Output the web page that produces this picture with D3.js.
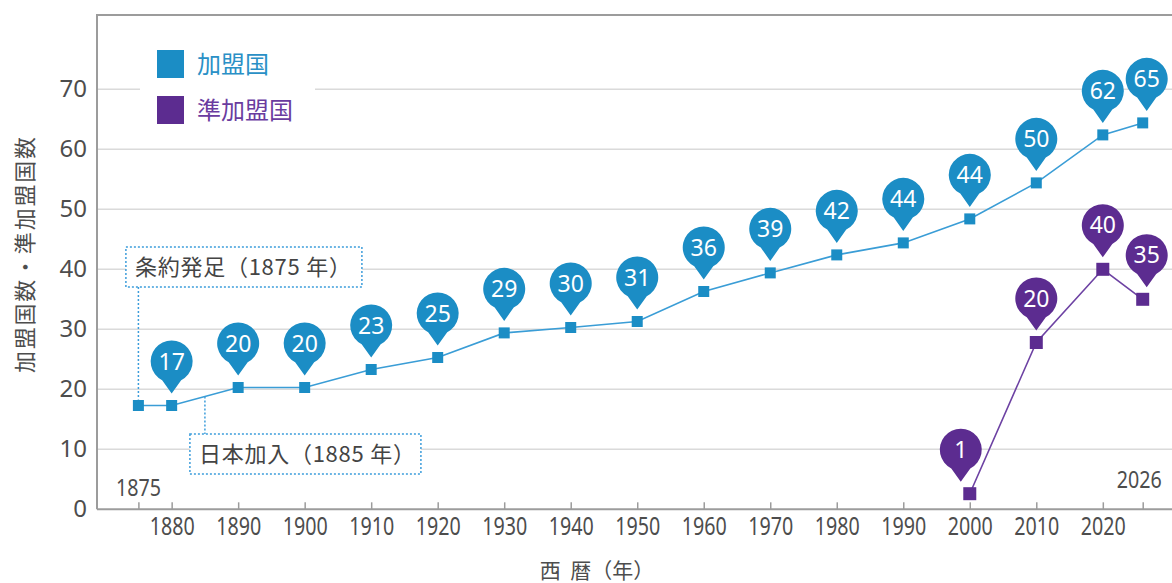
<!DOCTYPE html>
<html>
<head>
<meta charset="utf-8">
<script src="https://cdn.jsdelivr.net/npm/d3@7"></script>
<style>
  body { margin: 0; background: #fff; }
  text { font-family: "Noto Sans", "Noto Sans CJK JP", sans-serif; }
  .jp { font-family: "Noto Sans CJK JP", sans-serif; white-space: pre; }
</style>
</head>
<body>
<div id="chart"></div>
<script>
const memberYears  = [1875, 1880, 1890, 1900, 1910, 1920, 1930, 1940, 1950, 1960, 1970, 1980, 1990, 2000, 2010, 2020, 2026];
const memberValues = [17.3, 17.3, 20.3, 20.3, 23.3, 25.3, 29.4, 30.3, 31.3, 36.3, 39.4, 42.4, 44.4, 48.4, 54.4, 62.4, 64.4];
const memberLabels = [null, 17, 20, 20, 23, 25, 29, 30, 31, 36, 39, 42, 44, 44, 50, 62, 65];

// associate members
const assocYears  = [2000, 2010, 2020, 2026];
const assocValues = [2.6, 27.8, 40, 35];
const assocLabels = [1, 20, 40, 35];

const tickYears = [1880, 1890, 1900, 1910, 1920, 1930, 1940, 1950, 1960, 1970, 1980, 1990, 2000, 2010, 2020];
const yTicks = [0, 10, 20, 30, 40, 50, 60, 70];
const legendNames = ["加盟国", "準加盟国"];
const notes = [
    { year: 1875, text: "条約発足（1875 年）" },
    { year: 1885, text: "日本加入（1885 年）" }
];

const width = 1172, height = 583;
const blue = "#1b8dc5", blueLine = "#3a9dd6",
    purple = "#5c2c90", purpleLine = "#6d42a3",
    frameColor = "#9c9c9c", gridColor = "#dadada", textColor = "#4d4d4d";

const svg = d3.select("#chart")
    .append("svg")
    .attr("width", width)
    .attr("height", height);

const x = d3.scaleLinear().domain([1875, 2020]).range([138.4, 1102.8]);
const y = d3.scaleLinear().domain([0, 70]).range([509.3, 89.3]);
const plotLeft = 97, plotTop = 15;

// grid
svg.append("g")
    .selectAll("line")
    .data(yTicks.filter(d => d > 0))
    .enter()
    .append("line")
    .attr("x1", plotLeft).attr("x2", width)
    .attr("y1", d => y(d)).attr("y2", d => y(d))
    .attr("stroke", gridColor)
    .attr("stroke-width", 1.5);

// legend (white box hides the grid line behind it)
const legend = svg.append("g");
legend.append("rect")
    .attr("x", 140).attr("y", 40)
    .attr("width", 175).attr("height", 95)
    .attr("fill", "#fff");
legend.selectAll("g.item")
    .data(legendNames)
    .enter()
    .append("g")
    .attr("class", "item")
    .attr("transform", (d, i) => "translate(157," + (50 + i * 46) + ")")
    .each(function (d, i) {
        const g = d3.select(this);
        g.append("rect")
            .attr("width", 27).attr("height", 28)
            .attr("fill", i ? purple : blue);
        g.append("text")
            .attr("class", "jp")
            .attr("x", 40).attr("y", 14)
            .attr("dy", "0.36em")
            .attr("font-size", 24)
            .attr("fill", i ? "#6a3c9f" : "#2a90c6")
            .text(d);
    });

// frame
svg.append("path")
    .attr("d", "M" + width + "," + plotTop + "H" + plotLeft + "V" + y(0))
    .attr("fill", "none")
    .attr("stroke", frameColor)
    .attr("stroke-width", 2);

// x axis
const xAxis = svg.append("g")
    .attr("transform", "translate(0," + y(0) + ")")
    .call(d3.axisBottom(x)
        .tickValues([1875].concat(tickYears, [2026]))
        .tickSize(-7)
        .tickFormat(d => tickYears.includes(d) ? d : ""));
xAxis.select(".domain")
    .attr("d", "M" + plotLeft + ",0H" + width)
    .attr("stroke", frameColor)
    .attr("stroke-width", 2);
xAxis.selectAll(".tick line").attr("stroke", frameColor).attr("stroke-width", 1.5);
xAxis.selectAll(".tick text")
    .attr("y", 26).attr("dy", null)
    .attr("font-size", 24.5)
    .attr("fill", textColor)
    .attr("textLength", d => tickYears.includes(d) ? 45 : null)
    .attr("lengthAdjust", "spacingAndGlyphs");

// end year labels inside the plot
svg.append("g")
    .selectAll("text")
    .data([[1875, 496, "middle", 0], [2026, 488, "end", 19]])
    .enter()
    .append("text")
    .attr("x", d => x(d[0]) + d[3])
    .attr("y", d => d[1])
    .attr("text-anchor", d => d[2])
    .attr("font-size", 24)
    .attr("fill", textColor)
    .attr("textLength", 45)
    .attr("lengthAdjust", "spacingAndGlyphs")
    .text(d => d[0]);

// y axis
const yAxis = svg.append("g")
    .attr("transform", "translate(" + plotLeft + ",0)")
    .call(d3.axisLeft(y).tickValues(yTicks).tickSize(0).tickPadding(10));
yAxis.select(".domain").remove();
yAxis.selectAll(".tick text")
    .attr("font-size", 24)
    .attr("fill", textColor);

// axis titles
svg.append("text")
    .attr("class", "jp")
    .attr("transform", "translate(25,255) rotate(-90)")
    .attr("text-anchor", "middle")
    .attr("dy", "0.36em")
    .attr("font-size", 22)
    .attr("fill", textColor)
    .attr("textLength", 236)
    .attr("lengthAdjust", "spacing")
    .text("加盟国数・準加盟国数");

svg.append("text")
    .attr("class", "jp")
    .attr("x", 597).attr("y", 578)
    .attr("text-anchor", "middle")
    .attr("font-size", 21)
    .attr("fill", textColor)
    .text("西  暦（年）");

// lines
const line = d3.line().x(d => x(d[0])).y(d => y(d[1]));
const memberData = memberYears.map((d, i) => [d, memberValues[i], memberLabels[i]]);
const assocData = assocYears.map((d, i) => [d, assocValues[i], assocLabels[i]]);

svg.append("path")
    .datum(memberData)
    .attr("d", line)
    .attr("fill", "none")
    .attr("stroke", blueLine)
    .attr("stroke-width", 1.6);
svg.append("path")
    .datum(assocData)
    .attr("d", line)
    .attr("fill", "none")
    .attr("stroke", purpleLine)
    .attr("stroke-width", 1.6);

// annotation boxes and dotted leaders
function valueAt(year) {
    const i = Math.max(1, d3.bisectLeft(memberYears, year));
    const t = (year - memberYears[i - 1]) / (memberYears[i] - memberYears[i - 1]);
    return memberValues[i - 1] + t * (memberValues[i] - memberValues[i - 1]);
}
const boxes = [
    { left: -12.5, top: 247, w: 236, h: 40, leaderFrom: 287, leaderTo: y(valueAt(1875)) - 6 },
    { left: -15, top: 434, w: 231, h: 40, leaderFrom: y(valueAt(1885)), leaderTo: 434 }
];
notes.forEach((n, i) => {
    const b = boxes[i], cx = x(n.year);
    const g = svg.append("g")
        .attr("stroke", "#3d9ddb")
        .attr("stroke-width", 1.5)
        .attr("stroke-dasharray", "2,2");
    g.append("line")
        .attr("x1", cx).attr("x2", cx)
        .attr("y1", b.leaderFrom).attr("y2", b.leaderTo);
    g.append("rect")
        .attr("x", cx + b.left).attr("y", b.top)
        .attr("width", b.w).attr("height", b.h)
        .attr("fill", "#fff");
    g.append("text")
        .attr("class", "jp")
        .attr("stroke", "none")
        .attr("x", cx + b.left + 9)
        .attr("y", b.top + b.h / 2)
        .attr("dy", "0.36em")
        .attr("font-size", 22)
        .attr("fill", "#444")
        .attr("textLength", 216)
        .attr("lengthAdjust", "spacing")
        .text(n.text);
});

// markers
svg.append("g")
    .selectAll("rect")
    .data(memberData)
    .enter()
    .append("rect")
    .attr("x", d => x(d[0]) - 5.5).attr("y", d => y(d[1]) - 5.5)
    .attr("width", 11).attr("height", 11)
    .attr("fill", blue);
svg.append("g")
    .selectAll("rect")
    .data(assocData)
    .enter()
    .append("rect")
    .attr("x", d => x(d[0]) - 6.5).attr("y", d => y(d[1]) - 6.5)
    .attr("width", 13).attr("height", 13)
    .attr("fill", purple);

// pins
const pinPath = "M0,32L-9.5,18.7A21,21 0 1,1 9.5,18.7Z";
const pinNudge = { "a2000": -9, "a2026": 4, "m2026": 4 };
function drawPins(data, color, key) {
    const pins = svg.append("g")
        .selectAll("g")
        .data(data.filter(d => d[2] != null))
        .enter()
        .append("g")
        .attr("transform", d => "translate(" + (x(d[0]) + (pinNudge[key + d[0]] || 0)) + "," + (y(d[1]) - 44) + ")");
    pins.append("path")
        .attr("d", pinPath)
        .attr("fill", color);
    pins.append("text")
        .attr("text-anchor", "middle")
        .attr("dy", "0.35em")
        .attr("font-size", 23)
        .attr("fill", "#fff")
        .text(d => d[2]);
}
drawPins(memberData, blue, "m");
drawPins(assocData, purple, "a");
</script>
</body>
</html>
